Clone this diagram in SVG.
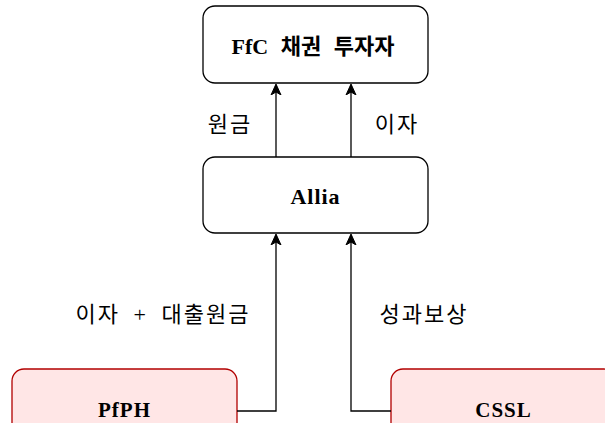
<svg xmlns="http://www.w3.org/2000/svg" width="605" height="423" viewBox="0 0 605 423">
<defs>
<marker id="arr" markerWidth="12" markerHeight="12" refX="10" refY="6" orient="auto" markerUnits="userSpaceOnUse">
<path d="M0,1 L11,6 L0,11 L3,6 Z" fill="#000" stroke="#000" stroke-width="1"/>
</marker>
<style>
.box{fill:#fff;stroke:#000;stroke-width:1.3}
.pink{fill:#ffe6e6;stroke:#b20000;stroke-width:1.3}
.t{font-family:"Liberation Serif","Noto Sans CJK KR",serif;font-weight:bold;font-size:22px;word-spacing:7px;text-anchor:middle;dominant-baseline:central;fill:#000}
.b{font-family:"Liberation Serif",serif;font-weight:bold;font-size:21px;text-anchor:middle;fill:#000}
.l{font-family:"Liberation Serif","Noto Sans CJK KR",serif;font-size:22px;letter-spacing:2px;word-spacing:6px;text-anchor:middle;dominant-baseline:central;fill:#000}
.c{fill:none;stroke:#000;stroke-width:1.3}
</style>
</defs>
<g id="investor"><rect class="box" x="203" y="6" width="225" height="77" rx="12"/><text class="t" x="313" y="46">FfC 채권 투자자</text></g>
<g id="allia"><rect class="box" x="203" y="157" width="225" height="76" rx="12"/><text class="t" x="315.5" y="196" letter-spacing="1">Allia</text></g>
<g id="pfph"><rect class="pink" x="12" y="369" width="225" height="84" rx="12"/><text class="b" x="124.5" y="417" letter-spacing="1">PfPH</text></g>
<g id="cssl"><rect class="pink" x="391" y="369" width="225" height="84" rx="12"/><text class="b" x="503.5" y="417" letter-spacing="1">CSSL</text></g>
<g id="connectors">
<path class="c" d="M276,157 L276,85" marker-end="url(#arr)"/>
<path class="c" d="M351,157 L351,85" marker-end="url(#arr)"/>
<path class="c" d="M237,411 L276,411 L276,235" marker-end="url(#arr)"/>
<path class="c" d="M391,411 L351,411 L351,235" marker-end="url(#arr)"/>
<text class="l" x="230" y="124">원금</text>
<text class="l" x="397" y="124">이자</text>
<text class="l" x="163" y="314">이자 + 대출원금</text>
<text class="l" x="424" y="314">성과보상</text>
</g>
</svg>
